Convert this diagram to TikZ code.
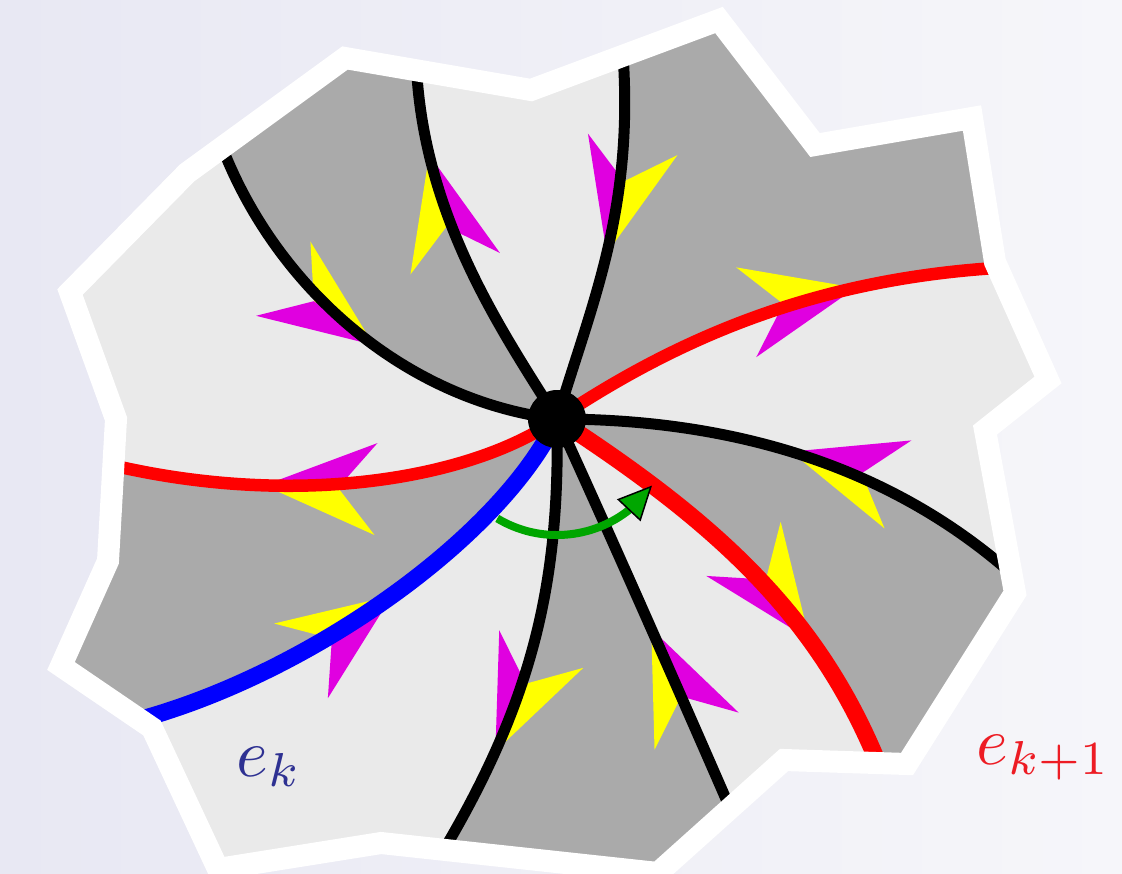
\documentclass[tikz,border=0pt]{standalone}
\usetikzlibrary{decorations.markings,arrows.meta,bending}
\definecolor{bgl}{RGB}{232,232,243}
\definecolor{bgr}{RGB}{246,246,250}
\definecolor{lgr}{RGB}{234,234,234}
\definecolor{dgr}{RGB}{170,170,170}
\definecolor{ylw}{RGB}{255,255,0}
\definecolor{mgt}{RGB}{224,0,224}
\definecolor{grn}{RGB}{0,166,0}
\definecolor{ekc}{RGB}{46,49,146}
\definecolor{ekkc}{RGB}{237,28,36}
\newcommand\arrout{\fill[ylw] (0pt,0pt) -- (-112pt,46pt) -- (-74pt,0pt) -- cycle;
  \fill[mgt] (0pt,0pt) -- (-112pt,-46pt) -- (-74pt,0pt) -- cycle;}
\newcommand\arrin{\fill[ylw] (0pt,0pt) -- (112pt,-46pt) -- (74pt,0pt) -- cycle;
  \fill[mgt] (0pt,0pt) -- (112pt,46pt) -- (74pt,0pt) -- cycle;}
\newcommand\bordpath{(345,58) -- (531,90) -- (719,20) -- (815,145) -- (972,118) -- (995,262) -- (1048,380) -- (985,430) -- (1015,593) -- (907,764) -- (784,760) -- (658,873) -- (381,843) -- (218,869) -- (152,728) -- (61,666) -- (108,561) -- (116,419) -- (70,292) -- (187,173) -- cycle}
\begin{document}
\begin{tikzpicture}[x=1pt,y=-1pt,
  blk/.style={line width=11pt,draw=black},
  redthin/.style={line width=12.5pt,draw=red},
  redthick/.style={line width=17pt,draw=red},
  bluethick/.style={line width=17pt,draw=blue},
  sector/.style={fill=dgr},
  border/.style={draw=white,line width=22pt,line join=miter},
  lbl/.style={anchor=base west,inner sep=0pt,scale=6.8},
  outarr/.style={decorate,decoration={markings,mark=at position #1 with {\arrout}}},
  inarr/.style={decorate,decoration={markings,mark=at position #1 with {\arrin}}}]
\useasboundingbox (0,0) rectangle (1122,873);
\shade[left color=bgl,right color=bgr] (0,0) rectangle (1122,873);
% centre and curve geometry
\coordinate (O) at (557,419);
\coordinate (c1a) at (400,400);  \coordinate (c1b) at (268,280);  \coordinate (e1) at (217,133);
\coordinate (c2a) at (505,335);  \coordinate (c2b) at (420,215);  \coordinate (e2) at (416,55);
\coordinate (c3a) at (593,299);  \coordinate (c3b) at (636,206);  \coordinate (e3) at (622,41);
\coordinate (c4a) at (687,332);  \coordinate (c4b) at (828,276);  \coordinate (e4) at (1013,267);
\coordinate (c5a) at (740,419);  \coordinate (c5b) at (900,470);  \coordinate (e5) at (1022,583);
\coordinate (c6a) at (717,523);  \coordinate (c6b) at (823,618);  \coordinate (e6) at (884,778);
\coordinate (c7a) at (590,490);  \coordinate (c7b) at (670,670);  \coordinate (e7) at (736,822);
\coordinate (c8a) at (560,580);  \coordinate (c8b) at (535,700);  \coordinate (e8) at (436,863);
\coordinate (c9a) at (500,540);  \coordinate (c9b) at (300,680);  \coordinate (e9) at (126,723);
\coordinate (c10a) at (470,480); \coordinate (c10b) at (290,510); \coordinate (e10) at (99,462);
\fill[lgr] \bordpath;
\begin{scope}
  \clip \bordpath;
  % dark sectors
  \fill[sector] (O) .. controls (c1a) and (c1b) .. (e1) -- (150,80) -- (300,-20) -- (416,-20) -- (e2) .. controls (c2b) and (c2a) .. (O) -- cycle;
  \fill[sector] (O) .. controls (c3a) and (c3b) .. (e3) -- (622,-20) -- (1172,-20) -- (1172,267) -- (e4) .. controls (c4b) and (c4a) .. (O) -- cycle;
  \fill[sector] (O) .. controls (c5a) and (c5b) .. (e5) -- (1172,583) -- (1172,923) -- (884,923) -- (e6) .. controls (c6b) and (c6a) .. (O) -- cycle;
  \fill[sector] (O) .. controls (c7a) and (c7b) .. (e7) -- (736,923) -- (436,923) -- (e8) .. controls (c8b) and (c8a) .. (O) -- cycle;
  \fill[sector] (O) .. controls (c9a) and (c9b) .. (e9) -- (-50,723) -- (-50,462) -- (e10) .. controls (c10b) and (c10a) .. (O) -- cycle;
  % split arrowheads
  \path[inarr=200pt]  (O) .. controls (c1a) and (c1b) .. (e1);
  \path[outarr=295pt] (O) .. controls (c2a) and (c2b) .. (e2);
  \path[inarr=173pt]  (O) .. controls (c3a) and (c3b) .. (e3);
  \path[outarr=328pt] (O) .. controls (c4a) and (c4b) .. (e4);
  \path[inarr=237pt]  (O) .. controls (c5a) and (c5b) .. (e5);
  \path[outarr=337pt] (O) .. controls (c6a) and (c6b) .. (e6);
  \path[inarr=230pt]  (O) .. controls (c7a) and (c7b) .. (e7);
  \path[outarr=341pt] (O) .. controls (c8a) and (c8b) .. (e8);
  \path[inarr=244pt]  (O) .. controls (c9a) and (c9b) .. (e9);
  \path[outarr=305pt] (O) .. controls (c10a) and (c10b) .. (e10);
  % curves
  \draw[blk] (O) .. controls (c1a) and (c1b) .. (e1);
  \draw[blk] (O) .. controls (c2a) and (c2b) .. (e2);
  \draw[blk] (O) .. controls (c3a) and (c3b) .. (e3);
  \draw[redthin] (O) .. controls (c4a) and (c4b) .. (e4);
  \draw[blk] (O) .. controls (c5a) and (c5b) .. (e5);
  \draw[blk] (O) .. controls (c7a) and (c7b) .. (e7);
  \draw[blk] (O) .. controls (c8a) and (c8b) .. (e8);
  \draw[redthick] (O) .. controls (c6a) and (c6b) .. (e6);
  \draw[redthin] (O) .. controls (c10a) and (c10b) .. (e10);
  \draw[bluethick] (O) .. controls (c9a) and (c9b) .. (e9);
\end{scope}
\draw[border] \bordpath;
% turning arrow
\draw[grn,line width=8pt,-{Triangle[length=34pt,width=32pt,fill=grn,color=black,line width=1.5pt]}]
  (O) ++(121:116) arc[start angle=121,end angle=35,radius=116];
\fill[black] (O) circle[radius=29];
\node[lbl,text=ekc] (lk) at (235,776) {$e_k$};
\node[lbl,text=ekkc] (lkk) at (975,764) {$e_{k+1}$};
\end{tikzpicture}
\end{document}
